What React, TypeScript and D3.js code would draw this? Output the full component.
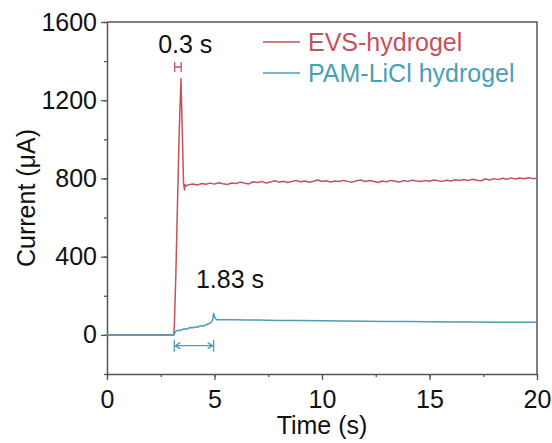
import React, { useEffect, useRef } from "react";
import * as d3 from "d3";

const xTicks = [0, 5, 10, 15, 20];
const yTicks = [0, 400, 800, 1200, 1600];
const xMinorTicks = [0, 2.5, 5, 7.5, 10, 12.5, 15, 17.5, 20];
const yMinorTicks = [-200, 0, 200, 400, 600, 800, 1000, 1200, 1400, 1600];
const seriesNames = ["EVS-hydrogel", "PAM-LiCl hydrogel"];
const seriesColors = ["#c4525a", "#4a9fb6"];

// [time (s), current (uA)]
const evsData: [number, number][] = [
  [0, 0], [3.1, 0], [3.13, 40], [3.2, 300], [3.28, 680], [3.36, 1040], [3.44, 1310],
  [3.5, 1050], [3.56, 780], [3.6, 742], [3.64, 768], [3.7, 762],
  [3.8, 768], [4.0, 772], [4.2, 766], [4.4, 774], [4.6, 770], [4.8, 776], [5.0, 771],
  [5.2, 778], [5.4, 773], [5.6, 769], [5.8, 777], [6.0, 774], [6.2, 781], [6.4, 776],
  [6.6, 772], [6.8, 783], [7.0, 779], [7.2, 785], [7.4, 777], [7.6, 782], [7.8, 788],
  [8.0, 781], [8.2, 786], [8.4, 779], [8.6, 784], [8.8, 790], [9.0, 783], [9.2, 787],
  [9.4, 781], [9.6, 786], [9.8, 792], [10.0, 784], [10.2, 788], [10.4, 782], [10.6, 787],
  [10.8, 784], [11.0, 790], [11.2, 785], [11.4, 781], [11.6, 788], [11.8, 792], [12.0, 784],
  [12.2, 789], [12.4, 786], [12.6, 779], [12.8, 787], [13.0, 783], [13.2, 790], [13.4, 786],
  [13.6, 782], [13.8, 789], [14.0, 785], [14.2, 791], [14.4, 787], [14.6, 784], [14.8, 790],
  [15.0, 786], [15.2, 792], [15.4, 788], [15.6, 785], [15.8, 791], [16.0, 787], [16.2, 793],
  [16.4, 789], [16.6, 795], [16.8, 790], [17.0, 796], [17.2, 791], [17.4, 788], [17.6, 797],
  [17.8, 792], [18.0, 799], [18.2, 794], [18.4, 801], [18.6, 796], [18.8, 803], [19.0, 797],
  [19.2, 802], [19.4, 798], [19.6, 804], [19.8, 799], [20.0, 801],
];

const pamData: [number, number][] = [
  [0, 0], [3.1, 0], [3.14, 8], [3.2, 18], [3.3, 24], [3.4, 22], [3.5, 28], [3.6, 31],
  [3.7, 29], [3.8, 35], [3.9, 38], [4.0, 36], [4.1, 41], [4.2, 39], [4.3, 44], [4.4, 47],
  [4.5, 45], [4.6, 52], [4.7, 56], [4.8, 60], [4.9, 72], [4.96, 110], [5.02, 88], [5.1, 78],
  [5.3, 77], [5.6, 78], [6, 77], [6.5, 76], [7, 76], [8, 74], [9, 73], [10, 72], [11, 71],
  [12, 70], [13, 69], [14, 68], [15, 67], [16, 66], [17, 66], [18, 65], [19, 64], [20, 64],
];

const evsSpan = [3.15, 3.45];
const pamSpan = [3.13, 4.96];
const evsLabel = "0.3 s";
const pamLabel = "1.83 s";

export default function App() {
  const ref = useRef<SVGSVGElement>(null);

  useEffect(() => {
    const width = 552, height = 443;
    const m = { top: 22, right: 15, bottom: 69, left: 107 };
    const font = "'Liberation Sans', Arial, sans-serif";
    const fs = 25;
    const axisColor = "#555";

    const svg = d3.select(ref.current);
    svg.selectAll("*").remove();

    const x = d3.scaleLinear().domain([0, 20]).range([m.left, width - m.right]);
    const y = d3.scaleLinear().domain([-200, 1600]).range([height - m.bottom, m.top]);

    // minor ticks
    svg.append("g")
      .attr("transform", `translate(0,${y(-200)})`)
      .call(d3.axisBottom(x).tickValues(xMinorTicks).tickSize(3).tickFormat(() => ""))
      .call(g => g.select(".domain").remove());
    svg.append("g")
      .attr("transform", `translate(${x(0)},0)`)
      .call(d3.axisLeft(y).tickValues(yMinorTicks).tickSize(3).tickFormat(() => ""))
      .call(g => g.select(".domain").remove());

    // major axes
    const xa = svg.append("g")
      .attr("transform", `translate(0,${y(-200)})`)
      .call(d3.axisBottom(x).tickValues(xTicks).tickSize(6).tickPadding(10)
        .tickSizeOuter(0).tickFormat(d3.format("d")));
    const ya = svg.append("g")
      .attr("transform", `translate(${x(0)},0)`)
      .call(d3.axisLeft(y).tickValues(yTicks).tickSize(6).tickPadding(4)
        .tickSizeOuter(0).tickFormat(d3.format("d")));

    [xa, ya].forEach(g => {
      g.selectAll("text").attr("font-size", fs).attr("font-family", font).attr("fill", "#111");
    });
    svg.selectAll(".tick line").attr("stroke", axisColor).attr("stroke-width", 1.3);
    svg.selectAll(".domain").attr("stroke", axisColor).attr("stroke-width", 1.5);

    // frame top and right
    svg.append("path")
      .attr("d", `M${x(0)},${y(1600)}H${x(20)}V${y(-200)}`)
      .attr("fill", "none").attr("stroke", axisColor).attr("stroke-width", 1.5);

    const line = d3.line<[number, number]>().x(d => x(d[0])).y(d => y(d[1]));

    svg.append("path").datum(evsData).attr("d", line)
      .attr("fill", "none").attr("stroke", seriesColors[0]).attr("stroke-width", 1.5)
      .attr("stroke-linejoin", "round");
    svg.append("path").datum(pamData).attr("d", line)
      .attr("fill", "none").attr("stroke", seriesColors[1]).attr("stroke-width", 1.5)
      .attr("stroke-linejoin", "round");

    // EVS bracket
    const ey = y(1370);
    const ex0 = x(evsSpan[0]), ex1 = x(evsSpan[1]);
    svg.append("path")
      .attr("d", `M${ex0},${ey - 5}V${ey + 5}M${ex1},${ey - 5}V${ey + 5}M${ex0},${ey}H${ex1}`)
      .attr("fill", "none").attr("stroke", seriesColors[0]).attr("stroke-width", 1.3);

    // PAM bracket with arrows
    const py = y(-55);
    const px0 = x(pamSpan[0]), px1 = x(pamSpan[1]);
    svg.append("path")
      .attr("d",
        `M${px0},${py - 6}V${py + 6}M${px1},${py - 6}V${py + 6}M${px0},${py}H${px1}` +
        `M${px0 + 6},${py - 3}L${px0 + 1},${py}L${px0 + 6},${py + 3}` +
        `M${px1 - 6},${py - 3}L${px1 - 1},${py}L${px1 - 6},${py + 3}`)
      .attr("fill", "none").attr("stroke", seriesColors[1]).attr("stroke-width", 1.3);

    svg.append("text").text(evsLabel)
      .attr("x", x(3.64)).attr("y", y(1440)).attr("text-anchor", "middle")
      .attr("font-size", fs).attr("font-family", font).attr("fill", "#111");
    svg.append("text").text(pamLabel)
      .attr("x", x(5.72)).attr("y", y(240)).attr("text-anchor", "middle")
      .attr("font-size", fs).attr("font-family", font).attr("fill", "#111");

    // legend
    const lg = svg.append("g");
    seriesNames.forEach((name, i) => {
      const ly = 42 + i * 31;
      lg.append("line").attr("x1", 263).attr("x2", 300).attr("y1", ly).attr("y2", ly)
        .attr("stroke", seriesColors[i]).attr("stroke-width", 1.5);
      lg.append("text").text(name).attr("x", 308).attr("y", ly + 9)
        .attr("font-size", fs).attr("font-family", font).attr("fill", seriesColors[i]);
    });

    // axis titles
    svg.append("text").text("Time (s)")
      .attr("x", (x(0) + x(20)) / 2).attr("y", 434).attr("text-anchor", "middle")
      .attr("font-size", fs).attr("font-family", font).attr("fill", "#111");
    svg.append("text").text("Current (μA)")
      .attr("transform", `translate(35,${(y(-200) + y(1600)) / 2}) rotate(-90)`)
      .attr("text-anchor", "middle")
      .attr("font-size", fs).attr("font-family", font).attr("fill", "#111");
  }, []);

  return (
    <svg
      ref={ref}
      width={552}
      height={443}
      style={{ position: "absolute", left: 0, top: 0, background: "#fff" }}
    />
  );
}
